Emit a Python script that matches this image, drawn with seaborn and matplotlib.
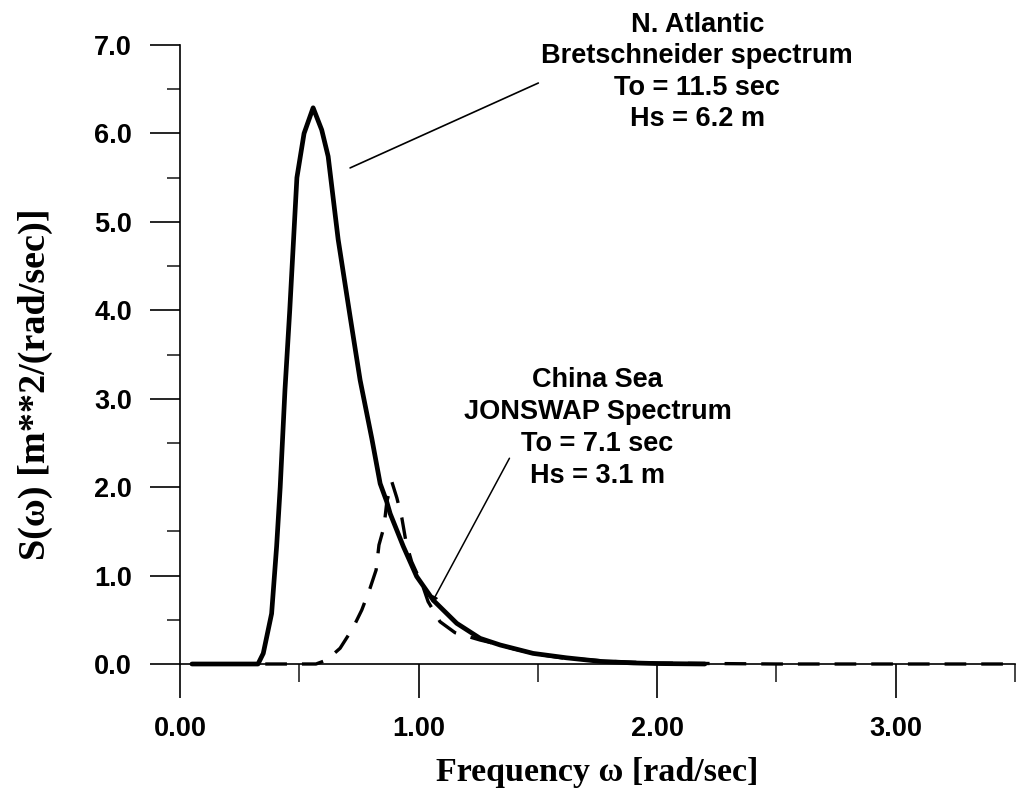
import numpy as np
import pandas as pd
import matplotlib
matplotlib.use("Agg")
import matplotlib.pyplot as plt
from matplotlib.ticker import MultipleLocator, FormatStrFormatter
import seaborn as sns

# ---- data ----
bret_freq = [0.05, 0.20, 0.30, 0.327, 0.349, 0.384, 0.405, 0.42, 0.44, 0.46, 0.49,
             0.52, 0.558, 0.594, 0.621, 0.663, 0.713, 0.755, 0.804, 0.839, 0.866,
             0.881, 0.936, 0.992, 1.062, 1.160, 1.258, 1.342, 1.48, 1.62, 1.76,
             1.90, 2.00, 2.20]
bret_spec = [0.0, 0.0, 0.0, 0.0, 0.12, 0.57, 1.33, 2.0, 3.1, 4.0, 5.5,
             6.0, 6.29, 6.04, 5.74, 4.80, 3.93, 3.21, 2.55, 2.04, 1.84,
             1.70, 1.33, 0.99, 0.72, 0.46, 0.29, 0.215, 0.12, 0.07, 0.03,
             0.012, 0.005, 0.0]

jons_freq = [0.05, 0.30, 0.57, 0.615, 0.671, 0.725, 0.762, 0.797, 0.822, 0.834,
             0.855, 0.867, 0.888, 0.909, 0.930, 0.948, 0.971, 1.019, 1.040,
             1.090, 1.153, 1.258, 1.328, 1.40, 1.50, 1.60, 1.80, 2.00, 2.50,
             3.00, 3.45]
jons_spec = [0.0, 0.0, 0.0, 0.045, 0.178, 0.407, 0.611, 0.86, 1.063, 1.346,
             1.55, 1.836, 2.06, 1.878, 1.65, 1.369, 1.157, 0.871, 0.705,
             0.478, 0.354, 0.271, 0.226, 0.17, 0.11, 0.07, 0.03, 0.01, 0.0,
             0.0, 0.0]

bret_label = "N. Atlantic\nBretschneider spectrum\nTo = 11.5 sec\nHs = 6.2 m"
jons_label = "China Sea\nJONSWAP Spectrum\nTo = 7.1 sec\nHs = 3.1 m"
x_ticks = [0.0, 1.0, 2.0, 3.0]
y_ticks = [0.0, 1.0, 2.0, 3.0, 4.0, 5.0, 6.0, 7.0]

sns.set_theme(style="white")
plt.rcParams["font.family"] = ["Liberation Sans", "DejaVu Sans"]

fig = plt.figure(figsize=(10.17, 7.91), dpi=100)
ax = fig.add_axes([180 / 1017, 127 / 791, 835 / 1017, 619 / 791])

df_b = pd.DataFrame({"freq": bret_freq, "spec": bret_spec})
df_j = pd.DataFrame({"freq": jons_freq, "spec": jons_spec})

sns.lineplot(data=df_b, x="freq", y="spec", ax=ax, color="black", lw=3.4,
             clip_on=False, estimator=None, sort=False)
sns.lineplot(data=df_j, x="freq", y="spec", ax=ax, color="black", lw=2.4,
             linestyle=(0, (6.5, 4.5)), clip_on=False, estimator=None, sort=False)

ax.set_xlim(0, 3.5)
ax.set_ylim(0, 7.0)
ax.set_xticks(x_ticks)
ax.set_yticks(y_ticks)
ax.xaxis.set_minor_locator(MultipleLocator(0.5))
ax.yaxis.set_minor_locator(MultipleLocator(0.5))
ax.xaxis.set_major_formatter(FormatStrFormatter("%.2f"))
ax.yaxis.set_major_formatter(FormatStrFormatter("%.1f"))

for s in ["top", "right"]:
    ax.spines[s].set_visible(False)
for s in ["left", "bottom"]:
    ax.spines[s].set_color("black")
    ax.spines[s].set_linewidth(1.2)

ax.tick_params(axis="x", which="major", direction="out", length=24.5, width=1.2,
               pad=13, labelsize=19.5, colors="black", bottom=True)
ax.tick_params(axis="x", which="minor", direction="out", length=13, width=1.2,
               bottom=True)
ax.tick_params(axis="y", which="major", direction="out", length=21.6, width=1.2,
               pad=13, labelsize=19.5, colors="black", left=True)
ax.tick_params(axis="y", which="minor", direction="out", length=9.4, width=1.2,
               left=True)
for lab in ax.get_xticklabels() + ax.get_yticklabels():
    lab.set_fontweight("bold")

ax.set_xlabel("Frequency ω [rad/sec]", fontsize=24.5, fontweight="bold",
              family=["Liberation Serif", "DejaVu Serif"], color="black")
ax.set_ylabel("S(ω) [m**2/(rad/sec)]", fontsize=27.5, fontweight="bold",
              family=["Liberation Serif", "DejaVu Serif"], color="black")
ax.xaxis.set_label_coords(0.5, -0.150)
ax.yaxis.set_label_coords(-0.152, 0.452)

ax.text(2.168, 7.375, bret_label, ha="center", va="top", fontsize=19.5,
        fontweight="bold", linespacing=1.27, color="black", clip_on=False)
ax.text(1.75, 3.36, jons_label, ha="center", va="top", fontsize=19.5,
        fontweight="bold", linespacing=1.31, color="black", clip_on=False)

ax.annotate("", xy=(0.713, 5.61), xytext=(1.502, 6.57),
            arrowprops=dict(arrowstyle="-", color="black", lw=1.2,
                            shrinkA=0, shrinkB=0), annotation_clip=False)
ax.annotate("", xy=(1.055, 0.69), xytext=(1.381, 2.327),
            arrowprops=dict(arrowstyle="-|>", color="black", lw=1.1,
                            mutation_scale=9, shrinkA=0, shrinkB=0),
            annotation_clip=False)

fig.savefig("out.png", dpi=100)
